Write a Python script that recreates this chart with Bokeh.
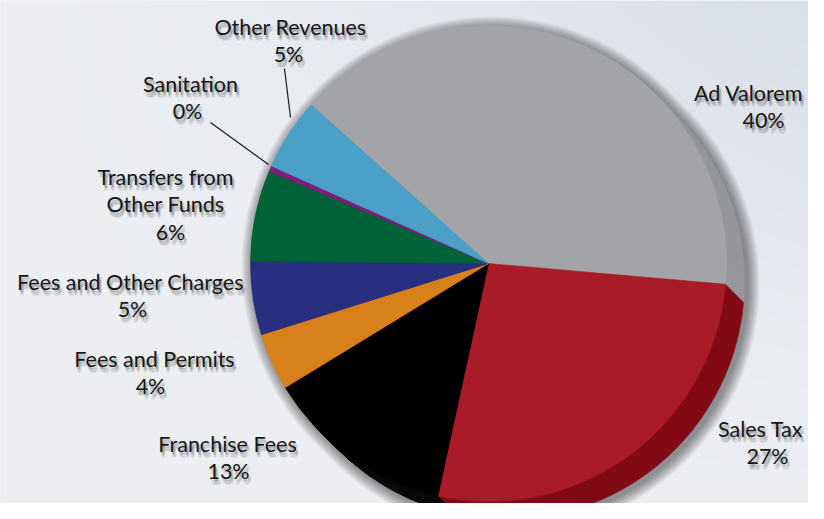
import numpy as np
from bokeh.plotting import figure
from bokeh.models import Range1d, ColumnDataSource
from bokeh.core.properties import value
from bokeh.embed import file_html
from bokeh.resources import INLINE

# ---------------- data ----------------
categories = ["Ad Valorem", "Sales Tax", "Franchise Fees", "Fees and Permits",
              "Fees and Other Charges", "Transfers from Other Funds",
              "Sanitation", "Other Revenues"]
shares = [39.9, 27.1, 12.9, 3.9, 5.0, 6.2, 0.4, 4.9]
pct_labels = ["40%", "27%", "13%", "4%", "5%", "6%", "0%", "5%"]
label_lines = [["Ad Valorem"], ["Sales Tax"], ["Franchise Fees"], ["Fees and Permits"],
               ["Fees and Other Charges"], ["Transfers from", "Other Funds"],
               ["Sanitation"], ["Other Revenues"]]

# ---------------- styles / layout ----------------
face_colors = ["#a3a4a7", "#a81b27", "#000000", "#d8801a", "#292f80", "#006237", "#7c1f7b", "#4ba0c7"]
side_colors = ["#96979a", "#820b15", "#0a0a0a", "#a8600f", "#1d225e", "#004527", "#5a145a", "#367a99"]

W, H = 824, 519
cx, cy = 488, H - 263
R = 238
depth = 18
start_deg = 138.2

# label anchors in reference pixel space: (x center, y of first line, pct x shift)
label_pos = [(748, 92, 15), (760, 428, 7), (227, 443, 1), (154, 358, -4),
             (130, 281, 2), (165, 176, 5), (190, 83, -3), (290, 26, -2)]
line_gap = 27.5
leaders = [((284, 68), (290, 117)), ((210, 122), (268, 164))]

p = figure(width=808, height=503, x_range=Range1d(0, 808), y_range=Range1d(16, 519),
           output_backend="svg", toolbar_location=None, x_axis_type=None, y_axis_type=None,
           min_border=0)
p.outline_line_color = None
p.grid.visible = False
p.background_fill_color = "#eceef2"
p.border_fill_color = "#eceef2"

# background gradient
gw, gh = 412, 260
gx = (np.arange(gw) + 0.5) / gw
gy = (np.arange(gh) + 0.5) / gh  # 0 bottom, 1 top
XX, YY = np.meshgrid(gx, gy)
f = np.clip(XX * YY, 0, 1) ** 1.2
light = np.array([237, 239, 243])
dark = np.array([217, 223, 231])
rgb = light[None, None, :] * (1 - f[..., None]) + dark[None, None, :] * f[..., None]
img = np.empty((gh, gw), dtype=np.uint32)
view = img.view(dtype=np.uint8).reshape((gh, gw, 4))
view[..., 0] = rgb[..., 0].astype(np.uint8)
view[..., 1] = rgb[..., 1].astype(np.uint8)
view[..., 2] = rgb[..., 2].astype(np.uint8)
view[..., 3] = 255
p.image_rgba(image=[img], x=0, y=0, dw=W, dh=H)

# angles
tot = float(np.sum(shares))
cum = np.concatenate([[0.0], np.cumsum(shares)]) / tot * 2 * np.pi
start = np.deg2rad(start_deg)
a_hi = start - cum[:-1]
a_lo = start - cum[1:]

# soft drop shadow around the extruded pie
phi = np.linspace(0, 2 * np.pi, 721)
odx, ody = depth, -depth
proj = np.cos(phi) * odx + np.sin(phi) * ody
for s in range(12, 0, -1):
    r = R + s
    sx = cx + 3 + r * np.cos(phi) + np.where(proj > 0, odx, 0)
    sy = cy - 3 + r * np.sin(phi) + np.where(proj > 0, ody, 0)
    p.patch(list(sx), list(sy), fill_color="black", fill_alpha=0.038, line_color=None)

# extrusion (side)
xs, ys, st, en, cols = [], [], [], [], []
for k in range(depth, 0, -1):
    for i in range(len(shares)):
        xs.append(cx + k)
        ys.append(cy - k)
        st.append(a_lo[i])
        en.append(a_hi[i])
        cols.append(side_colors[i])
side_src = ColumnDataSource(dict(x=xs, y=ys, start=st, end=en, color=cols))
p.wedge(x="x", y="y", radius=R, start_angle="start", end_angle="end",
        fill_color="color", line_color="color", line_width=0.6, source=side_src)

# top face
face_src = ColumnDataSource(dict(x=[cx] * len(shares), y=[cy] * len(shares),
                                 start=list(a_lo), end=list(a_hi), color=face_colors,
                                 cat=categories))
p.wedge(x="x", y="y", radius=R, start_angle="start", end_angle="end",
        fill_color="color", line_color="color", line_width=0.6, source=face_src)

# leader lines
for (x0, y0), (x1, y1) in leaders:
    p.line([x0, x1], [H - y0, H - y1], line_color="#1a1a1a", line_width=1.2)

# labels
tx, ty, tt = [], [], []
for i in range(len(categories)):
    lx, ly, pdx = label_pos[i]
    n = 0
    for line in label_lines[i]:
        tx.append(lx)
        ty.append(H - (ly + n * line_gap))
        tt.append(line)
        n += 1
    tx.append(lx + pdx)
    ty.append(H - (ly + n * line_gap))
    tt.append(pct_labels[i])

offs = [(1, 3), (2, 4), (3, 5), (1, 5), (3, 3), (2, 6), (1, 2), (2, 2)]
for dx, dy in offs:
    p.text(x=[v + dx for v in tx], y=[v - dy for v in ty], text=tt,
           text_font=value("Lato"), text_font_size="21.5px", text_align="center",
           text_baseline="middle", text_color="black", text_alpha=0.07)
p.text(x=tx, y=ty, text=tt, text_font=value("Lato"), text_font_size="21.5px",
       text_align="center", text_baseline="middle", text_color="#161616")

open("out.html", "w").write(file_html(p, INLINE))
